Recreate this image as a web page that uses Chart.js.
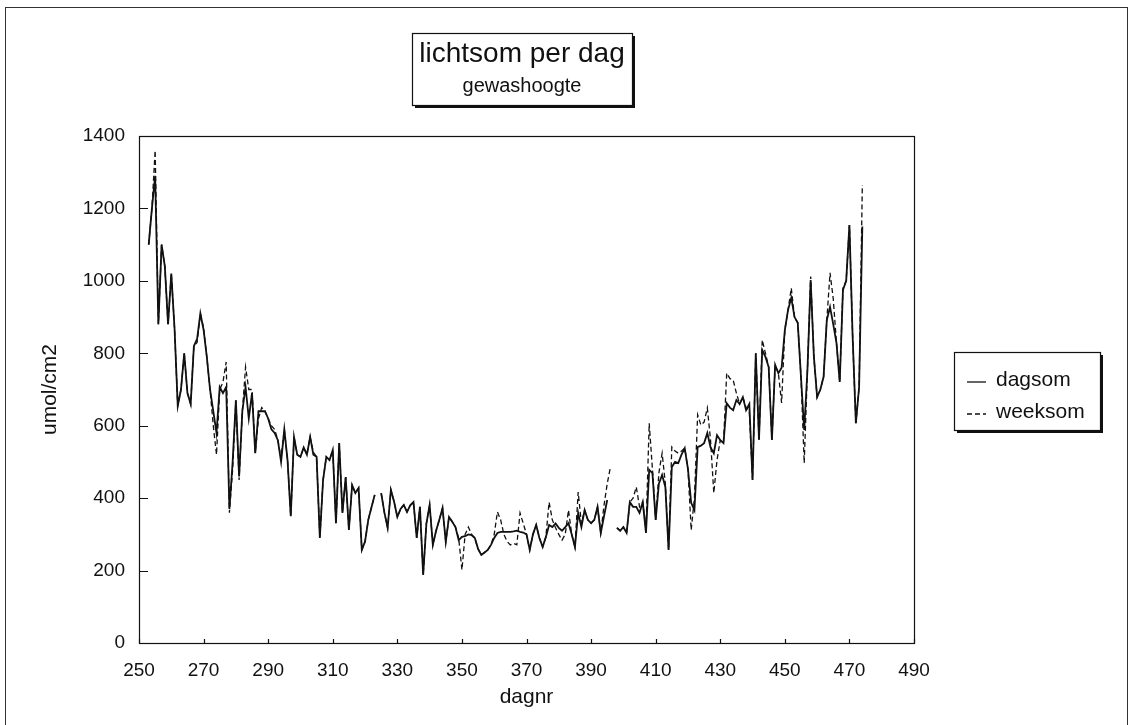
<!DOCTYPE html>
<html>
<head>
<meta charset="utf-8">
<title>lichtsom per dag</title>
<script src="https://cdn.jsdelivr.net/npm/chart.js@4"></script>
<style>
  html, body { margin: 0; padding: 0; background: #fff; }
  #wrap { width: 1134px; height: 725px; position: relative; }
</style>
</head>
<body>
<div id="wrap"><canvas id="cLicht"></canvas></div>
<script>
// ---- data ----
const DAYS = [
  253, 254, 255, 256, 257, 258, 259,
  260, 261, 262, 263, 264, 265, 266, 267, 268, 269,
  270, 271, 272, 273, 274, 275, 276, 277, 278, 279,
  280, 281, 282, 283, 284, 285, 286, 287, 288, 289,
  290, 291, 292, 293, 294, 295, 296, 297, 298, 299,
  300, 301, 302, 303, 304, 305, 306, 307, 308, 309,
  310, 311, 312, 313, 314, 315, 316, 317, 318, 319,
  320, 321, 322, 323, 324, 325, 326, 327, 328, 329,
  330, 331, 332, 333, 334, 335, 336, 337, 338, 339,
  340, 341, 342, 343, 344, 345, 346, 347, 348, 349,
  350, 351, 352, 353, 354, 355, 356, 357, 358, 359,
  360, 361, 362, 363, 364, 365, 366, 367, 368, 369,
  370, 371, 372, 373, 374, 375, 376, 377, 378, 379,
  380, 381, 382, 383, 384, 385, 386, 387, 388, 389,
  390, 391, 392, 393, 394, 395, 396, 397, 398, 399,
  400, 401, 402, 403, 404, 405, 406, 407, 408, 409,
  410, 411, 412, 413, 414, 415, 416, 417, 418, 419,
  420, 421, 422, 423, 424, 425, 426, 427, 428, 429,
  430, 431, 432, 433, 434, 435, 436, 437, 438, 439,
  440, 441, 442, 443, 444, 445, 446, 447, 448, 449,
  450, 451, 452, 453, 454, 455, 456, 457, 458, 459,
  460, 461, 462, 463, 464, 465, 466, 467, 468, 469,
  470, 471, 472, 473, 474
];

const DAGSOM = [
  1100, 1200, 1290, 880, 1100, 1040, 880,
  1020, 870, 655, 700, 800, 690, 660, 820, 840, 910,
  865, 790, 700, 640, 580, 707, 690, 707, 370, 500,
  670, 460, 640, 707, 620, 690, 524, 640, 640, 640,
  620, 590, 580, 560, 500, 590, 505, 350, 569, 520,
  514, 540, 520, 569, 520, 514, 290, 450, 514, 505,
  533, 331, 552, 359, 458, 312, 436, 414, 428, 257,
  280, 340, 375, 409, null, 414, 360, 318, 423, 390,
  348, 370, 381, 362, 380, 389, 290, 376, 188, 330,
  381, 271, 310, 340, 373, 279, 348, 335, 320, 284,
  293, 295, 300, 298, 290, 260, 243, 250, 257, 271,
  290, 304, 307, 307, 307, 307, 308, 310, 307, 305,
  300, 257, 300, 326, 290, 265, 293, 326, 320, 330,
  318, 310, 320, 331, 300, 265, 359, 320, 367, 340,
  331, 340, 376, 304, 350, 395, null, null, 318, 310,
  320, 304, 389, 376, 376, 359, 389, 304, 478, 469,
  340, 440, 464, 431, 257, 486, 500, 497, 520, 538,
  480, 387, 367, 541, 545, 552, 580, 540, 524, 574,
  560, 552, 662, 650, 643, 671, 660, 679, 643, 660,
  450, 800, 561, 809, 790, 762, 561, 768, 745, 760,
  864, 920, 953, 900, 884, 735, 588, 754, 1002, 790,
  679, 700, 735, 892, 928, 880, 828, 721, 975, 1000,
  1154, 845, 607, 707, 1150
];

const WEEKSOM = [
  1100, 1200, 1360, 880, 1100, 1040, 880,
  1020, 870, 655, 700, 800, 690, 660, 820, 830, 910,
  870, 790, 700, 600, 520, 700, 720, 776, 360, 480,
  670, 450, 640, 762, 700, 700, 524, 620, 650, 640,
  620, 600, 590, 560, 510, 590, 505, 350, 569, 520,
  514, 540, 520, 569, 527, 514, 290, 450, 514, 505,
  533, 331, 552, 359, 458, 312, 436, 414, 428, 257,
  280, 340, 375, 409, null, 414, 360, 318, 423, 390,
  348, 370, 381, 362, 380, 389, 290, 376, 188, 330,
  381, 271, 310, 340, 373, 279, 348, 335, 320, 290,
  202, 300, 320, 300, 290, 260, 243, 250, 257, 271,
  300, 362, 340, 300, 280, 271, 275, 271, 359, 330,
  300, 257, 300, 326, 290, 265, 293, 389, 340, 318,
  300, 284, 300, 367, 300, 265, 417, 330, 367, 340,
  331, 340, 376, 304, 380, 440, 486, null, 318, 310,
  320, 304, 389, 400, 431, 376, 389, 312, 607, 480,
  340, 470, 524, 440, 257, 541, 530, 524, 530, 538,
  480, 312, 400, 630, 602, 610, 649, 560, 414, 505,
  560, 552, 745, 730, 726, 690, 660, 679, 650, 640,
  450, 800, 561, 837, 800, 762, 561, 768, 745, 663,
  864, 920, 980, 900, 884, 735, 497, 754, 1012, 790,
  679, 700, 735, 892, 1022, 950, 828, 721, 980, 1000,
  1154, 845, 607, 707, 1265
];

const X_MIN = 250, X_MAX = 490, X_STEP = 20;
const Y_MIN = 0, Y_MAX = 1400, Y_STEP = 200;

const TITLE = 'lichtsom per dag';
const SUBTITLE = 'gewashoogte';
const X_TITLE = 'dagnr';
const Y_TITLE = 'umol/cm2';
const SERIES = ['dagsom', 'weeksom'];

const FONT = '"Liberation Sans", Arial, sans-serif';
const INK = '#111';

// ---- helpers ----
const pts = arr => DAYS.map((d, i) => ({ x: d, y: arr[i] }));

function shadowBox(ctx, x, y, w, h) {
  ctx.save();
  ctx.fillStyle = INK;
  ctx.fillRect(x + 3, y + 3, w, h);
  ctx.fillStyle = '#fff';
  ctx.fillRect(x, y, w, h);
  ctx.strokeStyle = INK;
  ctx.lineWidth = 1.2;
  ctx.strokeRect(x + .5, y + .5, w, h);
  ctx.restore();
}

// frame, inward ticks, title box, legend box, axis titles
const decorPlugin = {
  id: 'decor',
  afterDraw(chart) {
    const { ctx, chartArea: ca, scales } = chart;
    ctx.save();

    // outer page border
    ctx.strokeStyle = '#333';
    ctx.lineWidth = 1;
    ctx.strokeRect(5.5, 7.5, 1122, 760);

    // plot frame
    ctx.strokeStyle = INK;
    ctx.lineWidth = 1.2;
    ctx.strokeRect(ca.left + .5, ca.top + .5, ca.right - ca.left, ca.bottom - ca.top);

    // inward tick marks
    ctx.beginPath();
    scales.y.ticks.forEach(t => {
      const y = Math.round(scales.y.getPixelForValue(t.value)) + .5;
      ctx.moveTo(ca.left, y); ctx.lineTo(ca.left + 9, y);
    });
    scales.x.ticks.forEach(t => {
      const x = Math.round(scales.x.getPixelForValue(t.value)) + .5;
      ctx.moveTo(x, ca.bottom); ctx.lineTo(x, ca.bottom - 4);
    });
    ctx.stroke();

    // title box
    shadowBox(ctx, 412, 33, 220, 72);
    ctx.fillStyle = INK;
    ctx.textAlign = 'center';
    ctx.textBaseline = 'middle';
    ctx.font = `28px ${FONT}`;
    ctx.fillText(TITLE, 522, 54);
    ctx.font = `20px ${FONT}`;
    ctx.fillText(SUBTITLE, 522, 86);

    // legend box
    shadowBox(ctx, 954, 352, 146, 78);
    ctx.textAlign = 'left';
    ctx.font = `21px ${FONT}`;
    const rows = [380, 412];
    SERIES.forEach((name, i) => {
      const ds = chart.data.datasets[i];
      ctx.beginPath();
      ctx.setLineDash(ds.borderDash || []);
      ctx.lineWidth = 1.3;
      ctx.moveTo(967, rows[i] + 2); ctx.lineTo(986, rows[i] + 2);
      ctx.stroke();
      ctx.setLineDash([]);
      ctx.fillText(name, 996, rows[i]);
    });

    // axis titles
    ctx.textAlign = 'center';
    ctx.font = `21px ${FONT}`;
    ctx.fillText(X_TITLE, (ca.left + ca.right) / 2, 697);
    ctx.translate(50, (ca.top + ca.bottom) / 2);
    ctx.rotate(-Math.PI / 2);
    ctx.fillText(Y_TITLE, 0, 0);

    ctx.restore();
  }
};

const tickFont = { family: FONT, size: 19 };

new Chart(document.getElementById('cLicht').getContext('2d'), {
  type: 'line',
  data: {
    datasets: [
      {
        label: SERIES[0], data: pts(DAGSOM),
        borderColor: INK, borderWidth: 1.8,
        pointRadius: 0, tension: 0, spanGaps: false
      },
      {
        label: SERIES[1], data: pts(WEEKSOM),
        borderColor: INK, borderWidth: 1.3, borderDash: [5, 3],
        pointRadius: 0, tension: 0, spanGaps: false
      }
    ]
  },
  options: {
    responsive: true, maintainAspectRatio: false,
    animation: false,
    events: [],
    layout: { padding: { left: 39, right: 220, top: 136, bottom: 42 } },
    plugins: { legend: { display: false }, tooltip: { enabled: false } },
    scales: {
      x: {
        type: 'linear', min: X_MIN, max: X_MAX,
        grid: { display: false, drawTicks: false }, border: { display: false },
        ticks: { stepSize: X_STEP, color: INK, font: tickFont, padding: 16, maxRotation: 0, callback: v => String(v) },
        afterFit: s => { s.height = 40; }
      },
      y: {
        type: 'linear', min: Y_MIN, max: Y_MAX,
        grid: { display: false, drawTicks: false }, border: { display: false },
        ticks: { stepSize: Y_STEP, color: INK, font: tickFont, padding: 14, callback: v => String(v) },
        afterFit: s => { s.width = 100; }
      }
    }
  },
  plugins: [decorPlugin]
});
</script>
</body>
</html>
